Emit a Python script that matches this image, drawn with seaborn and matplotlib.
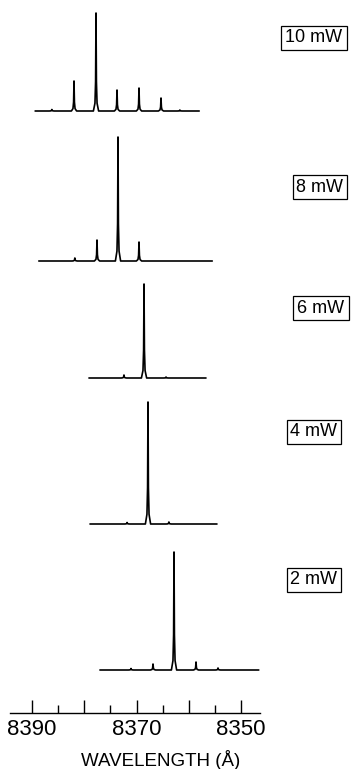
import matplotlib
matplotlib.use("Agg")
import matplotlib.pyplot as plt
import numpy as np
import pandas as pd
import seaborn as sns

# ---------------- data ----------------
powers = ["10 mW", "8 mW", "6 mW", "4 mW", "2 mW"]

# wavelength span of each recorded trace (start, end) in Angstrom
span_10 = (8389.4, 8358.0)
span_8 = (8388.7, 8355.5)
span_6 = (8379.1, 8356.7)
span_4 = (8378.9, 8354.6)
span_2 = (8377.0, 8346.6)

# mode positions (Angstrom) and relative heights (arb. units)
peaks_wl_10 = [8386.2, 8381.96, 8377.75, 8373.73, 8369.52, 8365.31, 8361.7]
peaks_h_10 = [1.5, 30, 98, 21, 23, 13, 1]

peaks_wl_8 = [8381.8, 8377.56, 8373.54, 8369.52]
peaks_h_8 = [3, 21, 124, 19]

peaks_wl_6 = [8372.4, 8368.56, 8364.35]
peaks_h_6 = [3, 94, 1]

peaks_wl_4 = [8371.8, 8367.8, 8363.8]
peaks_h_4 = [1.5, 122, 2]

peaks_wl_2 = [8371.05, 8366.84, 8362.82, 8358.61, 8354.4]
peaks_h_2 = [1.5, 6, 118, 8, 2]

tick_major = [8390, 8380, 8370, 8360, 8350]
tick_major_labels = ["8390", "", "8370", "", "8350"]
tick_minor = [8385, 8375, 8365, 8355]

# ---------------- layout ----------------
offsets = [658, 508, 391, 245, 99]          # vertical stacking of traces
label_pos = [(314, 38), (320, 187), (321, 308), (314, 432), (314, 580)]  # px

spans = [span_10, span_8, span_6, span_4, span_2]
pk_wl = [peaks_wl_10, peaks_wl_8, peaks_wl_6, peaks_wl_4, peaks_wl_2]
pk_h = [peaks_h_10, peaks_h_8, peaks_h_6, peaks_h_4, peaks_h_2]

# spike profile used to draw each narrow mode (shape only)
dx = [0.5, 0.2, 0.08, 0.0, -0.08, -0.2, -0.5]
fr = [0.0, 0.08, 0.3, 1.0, 0.3, 0.08, 0.0]

rows = []
for name, sp, wls, hs, off in zip(powers, spans, pk_wl, pk_h, offsets):
    rows.append((name, sp[0], off))
    for w, h in sorted(zip(wls, hs), reverse=True):
        for d, f in zip(dx, fr):
            rows.append((name, w + d, off + f * h))
    rows.append((name, sp[1], off))
df = pd.DataFrame(rows, columns=["power", "wavelength", "signal"])

sns.set_theme(style="white")
plt.rcParams["font.family"] = ["Liberation Sans", "DejaVu Sans"]
plt.rcParams["text.color"] = "black"
plt.rcParams["axes.labelcolor"] = "black"
plt.rcParams["xtick.color"] = "black"

W, H = 351, 769
fig = plt.figure(figsize=(W / 100, H / 100), dpi=100)
ax = fig.add_axes([0, 0, 1, 1])

sns.lineplot(data=df, x="wavelength", y="signal", units="power",
             estimator=None, sort=False, color="black", linewidth=1.2,
             ax=ax, legend=False)

px_per_A = 5.225
x0_px = 32
ax.set_xlim(8390 + x0_px / px_per_A, 8390 - (W - x0_px) / px_per_A)
ax.set_ylim(0, H)

for s in ["left", "right", "top"]:
    ax.spines[s].set_visible(False)
ax.spines["bottom"].set_position(("data", H - 713))
ax.spines["bottom"].set_bounds(8390 + (x0_px - 10) / px_per_A,
                               8390 - (260 - x0_px) / px_per_A)
ax.spines["bottom"].set_color("black")
ax.spines["bottom"].set_linewidth(1.0)

ax.set_yticks([])
ax.set_xticks(tick_major)
ax.set_xticklabels(tick_major_labels)
ax.set_xticks(tick_minor, minor=True)
ax.tick_params(axis="x", which="major", direction="in", length=9.4, width=1.0,
               labelsize=16, pad=4, color="black", labelcolor="black", bottom=True)
ax.tick_params(axis="x", which="minor", direction="in", length=5.5, width=1.0,
               color="black", bottom=True)

ax.set_xlabel("WAVELENGTH (Å)", fontsize=13.5, color="black")
ax.xaxis.set_label_coords(161 / W, (H - 766) / H)
ax.xaxis.label.set_va("baseline")
ax.set_ylabel("")

for name, (px, py) in zip(powers, label_pos):
    ax.text(px / W, 1 - py / H, name, transform=ax.transAxes,
            ha="center", va="center", fontsize=13, color="black",
            bbox=dict(boxstyle="square,pad=0.22", fc="white", ec="black", lw=0.9))

fig.savefig("out.png", dpi=100)
